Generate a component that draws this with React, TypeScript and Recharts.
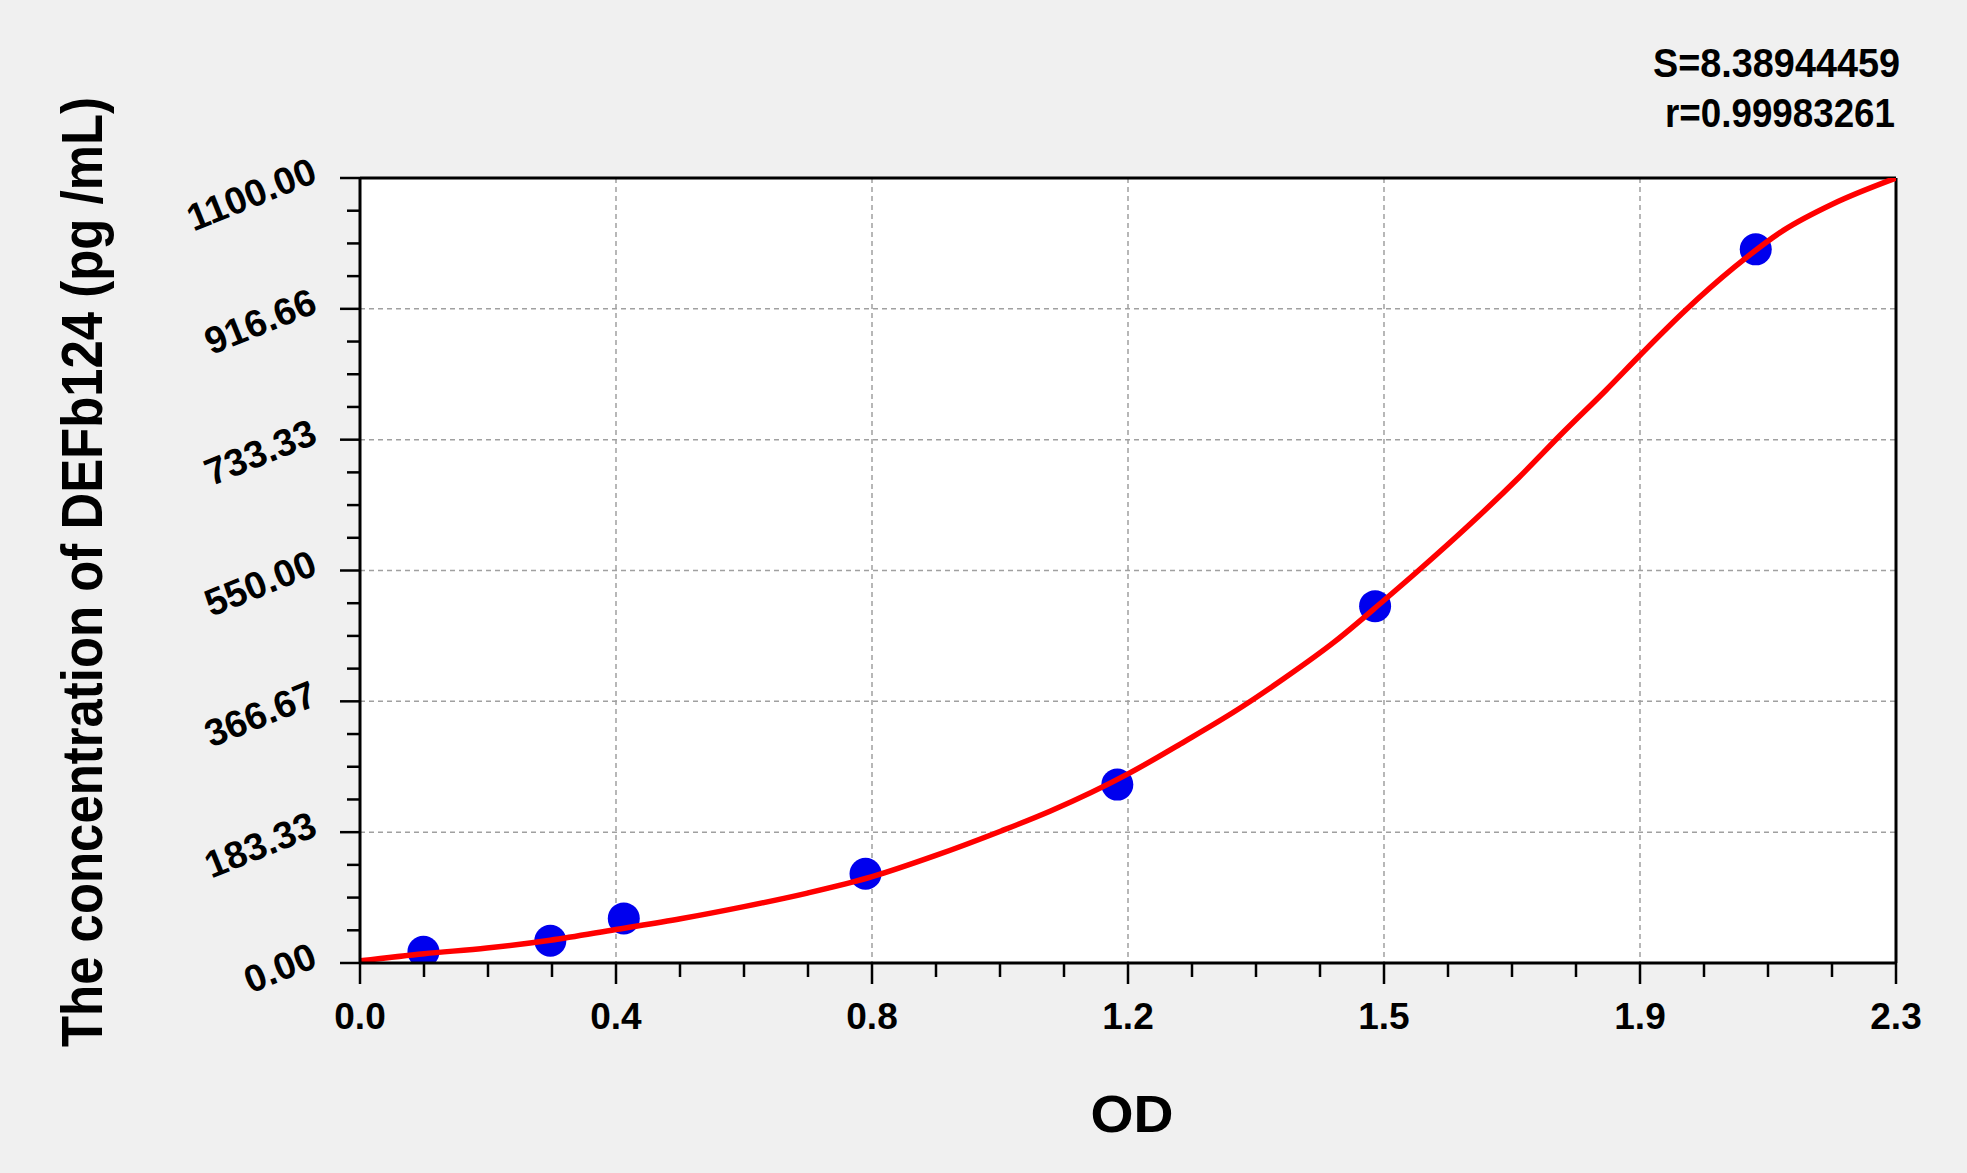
import React from 'react';
import {
  ComposedChart,
  XAxis,
  YAxis,
  CartesianGrid,
  Line,
  Scatter,
  ReferenceLine,
} from 'recharts';

// standards: measured OD vs known concentration
const stdOD = [0.095, 0.285, 0.395, 0.757, 1.134, 1.52, 2.09];
const stdConc = [15.6, 31.25, 62.5, 125, 250, 500, 1000];

// fitted curve
const curveOD = [0, 0.096, 0.19, 0.285, 0.383, 0.48, 0.575, 0.67, 0.767, 0.86, 0.96, 1.034, 1.15, 1.234, 1.309, 1.384, 1.459, 1.533, 1.585, 1.66, 1.735, 1.802, 1.866, 1.917, 1.984, 2.058, 2.132, 2.206, 2.3];
const curveConc = [3, 13, 21, 32, 47, 62, 79, 98, 121, 150, 185, 213, 265, 310, 352, 399, 450, 508, 550, 613, 680, 744, 803, 852, 914, 975, 1027, 1064, 1100];

const xMajorTicks = [0, 0.38333, 0.76667, 1.15, 1.53333, 1.91667, 2.3];
const xTickLabels = ['0.0', '0.4', '0.8', '1.2', '1.5', '1.9', '2.3'];
const yMajorTicks = [0, 183.333, 366.667, 550, 733.333, 916.667, 1100];
const yTickLabels = ['0.00', '183.33', '366.67', '550.00', '733.33', '916.66', '1100.00'];

const statS = 'S=8.38944459';
const statR = 'r=0.99983261';
const yTitle = 'The concentration of DEFb124 (pg /mL)';
const xTitle = 'OD';

const FONT = '"Liberation Sans", Arial, sans-serif';

// 3 minor ticks between each pair of majors
const withMinor = (majors: number[]) => {
  const out: number[] = [];
  for (let i = 0; i < majors.length - 1; i++) {
    const step = (majors[i + 1] - majors[i]) / 4;
    for (let k = 0; k < 4; k++) out.push(majors[i] + step * k);
  }
  out.push(majors[majors.length - 1]);
  return out;
};

const xTicks = withMinor(xMajorTicks);
const yTicks = withMinor(yMajorTicks);

const curveData = curveOD.map((x, i) => ({ x, y: curveConc[i] }));
const stdData = stdOD.map((x, i) => ({ x, y: stdConc[i] }));

const XTick = (props: any) => {
  const { x, y, index } = props;
  const major = index % 4 === 0;
  return (
    <g>
      <line x1={x} x2={x} y1={y} y2={y + (major ? 21 : 14)} stroke="#000" strokeWidth={2.5} />
      {major && (
        <text x={x} y={y + 66} textAnchor="middle" fontFamily={FONT} fontWeight="bold" fontSize={37} fill="#000">
          {xTickLabels[index / 4]}
        </text>
      )}
    </g>
  );
};

const YTick = (props: any) => {
  const { x, y, index } = props;
  const major = index % 4 === 0;
  const tx = x - 41;
  const ty = y + 3;
  return (
    <g>
      <line x1={x - (major ? 20 : 13)} x2={x} y1={y} y2={y} stroke="#000" strokeWidth={2.5} />
      {major && (
        <text
          x={tx}
          y={ty}
          textAnchor="end"
          fontFamily={FONT}
          fontWeight="bold"
          fontSize={38}
          fill="#000"
          transform={`rotate(-22 ${tx} ${ty})`}
        >
          {yTickLabels[index / 4]}
        </text>
      )}
    </g>
  );
};

const Dot = (props: any) => <circle cx={props.cx} cy={props.cy} r={16} fill="#0000ee" />;

export default function App() {
  return (
    <div style={{ position: 'absolute', left: 0, top: 0, width: 1967, height: 1173, background: '#f0f0f0' }}>
      <ComposedChart width={1967} height={1173} margin={{ top: 178, right: 71, bottom: 0, left: 0 }}>
        <CartesianGrid
          fill="#ffffff"
          stroke="#a0a0a0"
          strokeWidth={1.5}
          strokeDasharray="5 4"
          horizontalValues={yMajorTicks}
          verticalValues={xMajorTicks}
        />
        <XAxis
          type="number"
          dataKey="x"
          domain={[0, 2.3]}
          ticks={xTicks}
          interval={0}
          height={210}
          tickSize={0}
          tickMargin={0}
          tickLine={false}
          tick={<XTick />}
          axisLine={{ stroke: '#000', strokeWidth: 3 }}
          allowDataOverflow
        />
        <YAxis
          type="number"
          dataKey="y"
          domain={[0, 1100]}
          ticks={yTicks}
          interval={0}
          width={360}
          tickSize={0}
          tickMargin={0}
          tickLine={false}
          tick={<YTick />}
          axisLine={{ stroke: '#000', strokeWidth: 3 }}
          allowDataOverflow
        />
        <ReferenceLine y={1100} stroke="#000" strokeWidth={3} />
        <ReferenceLine x={2.3} stroke="#000" strokeWidth={3} />
        <Scatter data={stdData} dataKey="y" shape={<Dot />} zIndex={300} isAnimationActive={false} />
        <Line
          data={curveData}
          dataKey="y"
          type="monotone"
          stroke="#ff0000"
          strokeWidth={5.5}
          dot={false}
          activeDot={false}
          zIndex={450}
          isAnimationActive={false}
        />
      </ComposedChart>
      <svg
        width={1967}
        height={1173}
        style={{ position: 'absolute', left: 0, top: 0, pointerEvents: 'none' }}
      >
        <text x={1900} y={77} textAnchor="end" fontFamily={FONT} fontWeight="bold" fontSize={40} textLength={247} lengthAdjust="spacingAndGlyphs">
          {statS}
        </text>
        <text x={1895} y={127} textAnchor="end" fontFamily={FONT} fontWeight="bold" fontSize={40} textLength={230} lengthAdjust="spacingAndGlyphs">
          {statR}
        </text>
        <text
          x={102}
          y={572}
          textAnchor="middle"
          fontFamily={FONT}
          fontWeight="bold"
          fontSize={58}
          textLength={950}
          lengthAdjust="spacingAndGlyphs"
          transform="rotate(-90 102 572)"
        >
          {yTitle}
        </text>
        <text x={1132} y={1132} textAnchor="middle" fontFamily={FONT} fontWeight="bold" fontSize={51} textLength={83} lengthAdjust="spacingAndGlyphs">
          {xTitle}
        </text>
      </svg>
    </div>
  );
}
